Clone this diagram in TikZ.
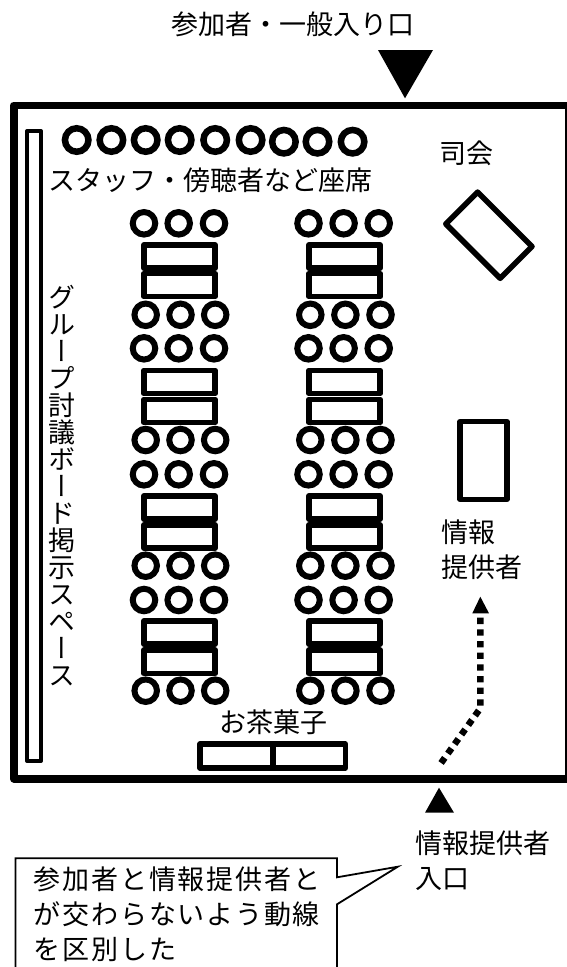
\documentclass[tikz,border=0pt]{standalone}
\usepackage{fontspec}
\setmainfont{Noto Sans CJK JP}
\newfontfamily\vertfont[RawFeature=+vert]{Noto Sans CJK JP}
\newfontfamily\notefont[LetterSpace=7]{Noto Sans CJK JP}
\newcommand{\labelfont}{\fontsize{27}{35}\selectfont}

\tikzset{
  seat/.style = {circle, draw, inner sep = 0, minimum size = 22.5pt, line width = 6pt},
  bigseat/.style = {seat, minimum size = 23.5pt, line width = 6.5pt},
  desk/.style = {rectangle, draw, inner sep = 0, line width = 5.5pt, line join = round,
                 minimum width = 71.4pt, minimum height = 23.3pt},
  place/.style = {font = \labelfont, inner sep = 0, align = left}
}

\begin{document}
\begin{tikzpicture}[x = 1pt, y = -1pt]
        \clip (0,0) rectangle (567,967);
        % room and wall board
        \draw[line width = 7.6pt, line join = round] (13.7,105.3) rectangle (568.5,778.7);
        \draw[line width = 4pt, line join = round] (27.2,131) rectangle (40.8,761);
        % entrances
        \fill (378,50) -- (433,50) -- (405,98.3) -- cycle;
        \fill (425,812.7) -- (454,812.7) -- (439,787.7) -- cycle;
        \node[place] (mainentry) at (293.3,24.7) {参加者・一般入り口};
        \node[place, anchor = west] (infoentry) at (415.5,861) {情報提供者\\入口};
        % staff seats
        \foreach \seatx/\seaty [count = \n] in {76.7/140, 111.4/140, 145.7/140, 179.7/140, 215.2/140,
                                                250.6/140, 283.9/141.7, 317.5/141.7, 352.6/141.7}
          \node[bigseat] (staff\n) at (\seatx,\seaty) {};
        \node[place] (stafflabel) at (210.7,180) {スタッフ・傍聴者など座席};
        % desks with seats on both sides
        \foreach \desky [count = \n] in {256.5, 285, 381.9, 410.9, 507.5, 536.5, 632.5, 661.8} {
          \node[desk] (deskL\n) at (179.5,\desky) {};
          \node[desk] (deskR\n) at (344.5,\desky) {};
        }
        \foreach \rowy [count = \r] in {223.3, 348.3, 474.3, 600}
          \foreach \seatx [count = \c] in {144, 178.7, 214, 308.5, 343.6, 378.7}
            \node[seat] (upper\r-\c) at (\seatx,\rowy) {};
        \foreach \rowy [count = \r] in {314.8, 440, 565.7, 690.7}
          \foreach \seatx [count = \c] in {145.7, 180.5, 215.2, 310.3, 345.4, 380.5}
            \node[seat] (lower\r-\c) at (\seatx,\rowy) {};
        % chair and speaker
        \node[place] (chairlabel) at (466,153.3) {司会};
        \node[desk, minimum width = 77pt, minimum height = 45pt, rotate = -45] (chairdesk) at (488.9,235.2) {};
        \node[desk, minimum width = 46.6pt, minimum height = 77.8pt] (speakerdesk) at (483.5,460.4) {};
        \node[place, anchor = west] (speakerlabel) at (441.5,550) {情報\\提供者};
        % route of the speaker
        \coordinate (routetop) at (480.3,617.7);
        \coordinate (routebend) at (480.3,708.3);
        \coordinate (routeend) at (441,763.1);
        \draw[line width = 6.5pt, dash pattern = on 6.3pt off 5.36pt] (routetop) -- (routebend) -- (routeend);
        \fill (472.3,613.3) -- (489,613.3) -- (480.3,596.7) -- cycle;
        % refreshments
        \node[place] (snacklabel) at (273.3,722.5) {お茶菓子};
        \node[desk, minimum width = 73pt, minimum height = 23.8pt] (snackA) at (236.5,756.1) {};
        \node[desk, minimum width = 72.5pt, minimum height = 23.8pt] (snackB) at (309.2,756.1) {};
        % vertical label
        \node[font = \vertfont\fontsize{27}{27}\selectfont, inner sep = 0, align = center] (boardlabel) at (61.5,485.5)
          {グ\\ル\\ー\\プ\\討\\議\\ボ\\ー\\ド\\掲\\示\\ス\\ペ\\ー\\ス};
        % note
        \draw[line width = 1.8pt] (337,858.3) -- (337,877.3) -- (397.8,866.7) -- (337,904.3) -- (337,975)
          -- (15.5,975) -- (15.5,858.3) -- cycle;
        \node[place, font = \notefont\fontsize{27}{35}\selectfont, anchor = west] (notelabel) at (33.3,914.5)
          {参加者と情報提供者と\\が交わらないよう動線\\を区別した};
      \end{tikzpicture}
\end{document}
